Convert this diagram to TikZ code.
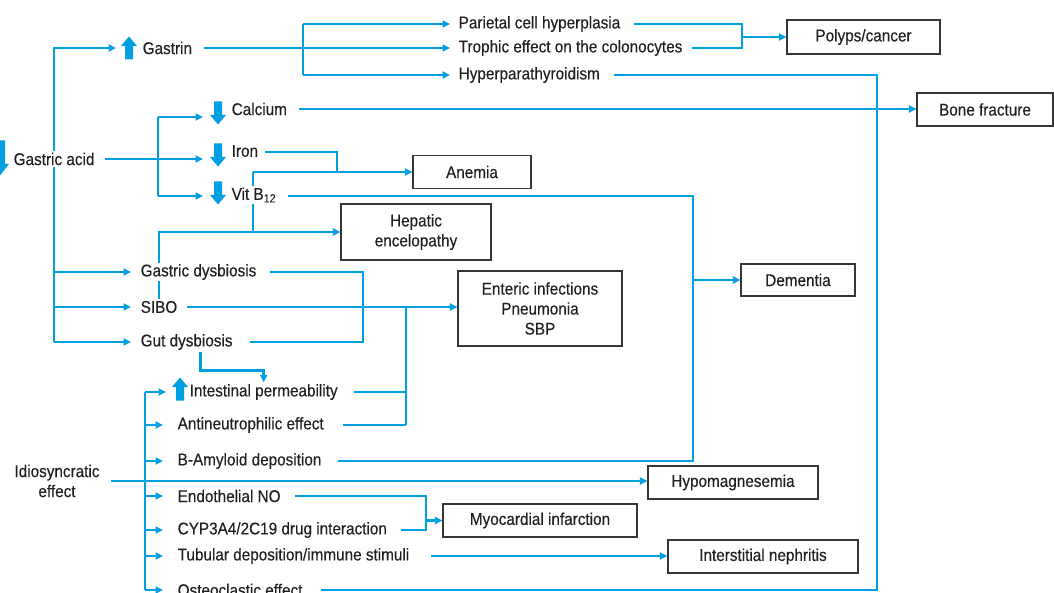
\documentclass[tikz,border=0pt]{standalone}
\usepackage{fontspec}
\setmainfont{Liberation Sans}[FakeStretch=0.9,FakeBold=0.25]
\usetikzlibrary{arrows.meta,calc}
\definecolor{lblue}{RGB}{0,160,227}
\definecolor{txtc}{RGB}{35,31,32}
\definecolor{boxc}{RGB}{55,55,55}
\pgfdeclarelayer{back}
\pgfdeclarelayer{bg}
\pgfsetlayers{back,bg,main}
\tikzset{
  lbl/.style={anchor=west, inner sep=1.5pt, fill=white, text=txtc},
  box/.style={draw=boxc, line width=1.1pt, fill=white, align=center, text=txtc, inner sep=0pt},
  conn/.style={draw=lblue, line width=2.6pt},
  arr/.style={conn, -{Triangle[length=7.5pt,width=7pt]}},
  upicon/.pic={\fill[lblue] (-4,11.5) -- (-4,-2) -- (-8,-2) -- (0,-11.5) -- (8,-2) -- (4,-2) -- (4,11.5) -- cycle;},
  downicon/.pic={\fill[lblue] (-4,-11.5) -- (-4,2) -- (-8,2) -- (0,11.5) -- (8,2) -- (4,2) -- (4,-11.5) -- cycle;},
  bigdownicon/.pic={\fill[lblue] (-5,-17.5) -- (-5,6) -- (-9,6) -- (0,17.5) -- (9,6) -- (5,6) -- (5,-17.5) -- cycle;}
}
\begin{document}
\begin{tikzpicture}[x=1pt,y=-1pt,font=\fontsize{17}{20}\selectfont]
\useasboundingbox (0,0) rectangle (1054,593);
\begin{pgfonlayer}{back}
\fill[white] (0,0) rectangle (1054,593);
\end{pgfonlayer}

% text nodes
\node[lbl] (gastrin) at (141,48) {Gastrin};
\node[lbl] (calcium) at (230,109) {Calcium};
\node[lbl] (iron) at (230,151) {Iron};
\node[lbl] (vitb) at (230,195) {Vit B\textsubscript{12}};
\node[lbl] (gacid) at (12,159) {Gastric acid};
\node[lbl] (parietal) at (457,24) {Parietal cell hyperplasia};
\node[lbl] (trophic) at (457,48) {Trophic effect on the colonocytes};
\node[lbl] (hyperpara) at (457,75) {Hyperparathyroidism};
\node[lbl] (gdys) at (139,272) {Gastric dysbiosis};
\node[lbl] (sibo) at (139,307) {SIBO};
\node[lbl] (gutdys) at (139,342) {Gut dysbiosis};
\node[lbl] (intperm) at (188,392) {Intestinal permeability};
\node[lbl] (antineu) at (176,425) {Antineutrophilic effect};
\node[lbl] (amyloid) at (176,461) {B-Amyloid deposition};
\node[lbl] (endo) at (176,496) {Endothelial NO};
\node[lbl] (cyp) at (176,530) {CYP3A4/2C19 drug interaction};
\node[lbl] (tubular) at (176,556) {Tubular deposition/immune stimuli};
\node[lbl] (osteo) at (176,590) {Osteoclastic effect};
\node[lbl, anchor=center, align=center] (idio) at (57,481) {Idiosyncratic\\effect};

% boxes
\node[box, minimum width=153pt, minimum height=34pt] (polyps) at (863.5,37) {Polyps/cancer};
\node[box, minimum width=136pt, minimum height=33pt] (bone) at (985,109.5) {Bone fracture};
\node[box, minimum width=118pt, minimum height=33pt] (anemia) at (472,172) {Anemia};
\node[box, minimum width=150pt, minimum height=56pt] (hepatic) at (416,232) {Hepatic\\encelopathy};
\node[box, minimum width=114pt, minimum height=32pt] (dementia) at (798,280) {Dementia};
\node[box, minimum width=164pt, minimum height=75pt] (enteric) at (540,308.5) {Enteric infections\\Pneumonia\\SBP};
\node[box, minimum width=170pt, minimum height=33pt] (hypomag) at (733,482.5) {Hypomagnesemia};
\node[box, minimum width=194pt, minimum height=33pt] (myo) at (540,520.5) {Myocardial infarction};
\node[box, minimum width=190pt, minimum height=33pt] (nephr) at (763,556.5) {Interstitial nephritis};

% block arrow icons
\pic at (0,158) {bigdownicon};
\pic at (129,48) {upicon};
\pic at (218,113) {downicon};
\pic at (218,155) {downicon};
\pic at (218,193) {downicon};
\pic at (180,389) {upicon};

\coordinate (idx) at (145,0);

\begin{pgfonlayer}{bg}
% gastric acid trunk
\draw[arr] (gacid.north) |- ([xshift=-25pt]gastrin.west);
\draw[conn] (gacid.south) -- (gacid.south |- gutdys.west);
\foreach \n in {gdys,sibo,gutdys} \draw[arr, shorten >=8pt] (gacid.south |- \n.west) -- (\n.west);
% gastric acid -> minerals
\draw[arr] ([xshift=9pt]gacid.east) -- (203,159);
\draw[conn] (158,117) -- (158,196);
\draw[arr] (158,117) -- (203,117);
\draw[arr] (158,196) -- (203,196);
% gastrin
\draw[conn] ([xshift=10pt]gastrin.east) -- (303,48);
\draw[conn] (303,24) -- (303,75);
\draw[arr] (303,24) -- ([xshift=-7pt]parietal.west);
\draw[arr] (303,48) -- ([xshift=-7pt]trophic.west);
\draw[arr] (303,75) -- ([xshift=-7pt]hyperpara.west);
% polyps
\draw[conn] ([xshift=12pt]parietal.east) -| (742,48) -- ([xshift=8pt]trophic.east);
\draw[arr] (742,37) -- (polyps.west);
% hyperparathyroidism / osteoclastic
\draw[conn] ([xshift=12pt]hyperpara.east) -| (877,590) -- ([xshift=17pt]osteo.east);
% calcium
\draw[arr] ([xshift=10pt]calcium.east) -- (calcium.east -| bone.west);
% iron, vit B12 -> anemia
\draw[conn] ([xshift=5pt,yshift=-1pt]iron.east) -| (337,172);
\draw[arr] (253,172) -- (anemia.west);
\draw[conn] (253,172) -- (253,232);
% SIBO -> hepatic
\draw[arr] (sibo.north) |- (hepatic.west);
% vit B12 / amyloid -> dementia
\draw[conn] ([xshift=10pt,yshift=-1pt]vitb.east) -| (693,461) -- ([xshift=15pt]amyloid.east);
\draw[arr] (693,280) -- (dementia.west);
% dysbiosis loop
\draw[conn] ([xshift=12pt]gdys.east) -| (363,342) -- ([xshift=16pt]gutdys.east);
% SIBO -> enteric
\draw[arr] ([xshift=8pt]sibo.east) -- (sibo.east -| enteric.west);
\draw[conn] (406,307) -- (406,425);
\draw[conn] ([xshift=15pt]intperm.east) -- (406,392);
\draw[conn] ([xshift=18pt]antineu.east) -- (406,425);
% gut dysbiosis -> intestinal permeability
\draw[arr] ([xshift=14pt]gutdys.south) |- ([yshift=12pt]intperm.north) -- (intperm.north);
% idiosyncratic
\draw[arr] ([xshift=10pt]idio.east) -- (idio.east -| hypomag.west);
\draw[conn] (145,392) -- (145,590);
\draw[arr, shorten >=22pt] (intperm.west -| idx) -- (intperm.west);
\foreach \n in {antineu,amyloid,endo,cyp,tubular,osteo} \draw[arr, shorten >=13pt] (\n.west -| idx) -- (\n.west);
% myocardial
\draw[conn] ([xshift=13pt]endo.east) -| (426,530) -- ([xshift=12pt]cyp.east);
\draw[arr] (426,520.5) -- (myo.west);
% tubular -> nephritis
\draw[arr] ([xshift=20pt]tubular.east) -- (tubular.east -| nephr.west);
\end{pgfonlayer}
\end{tikzpicture}
\end{document}
